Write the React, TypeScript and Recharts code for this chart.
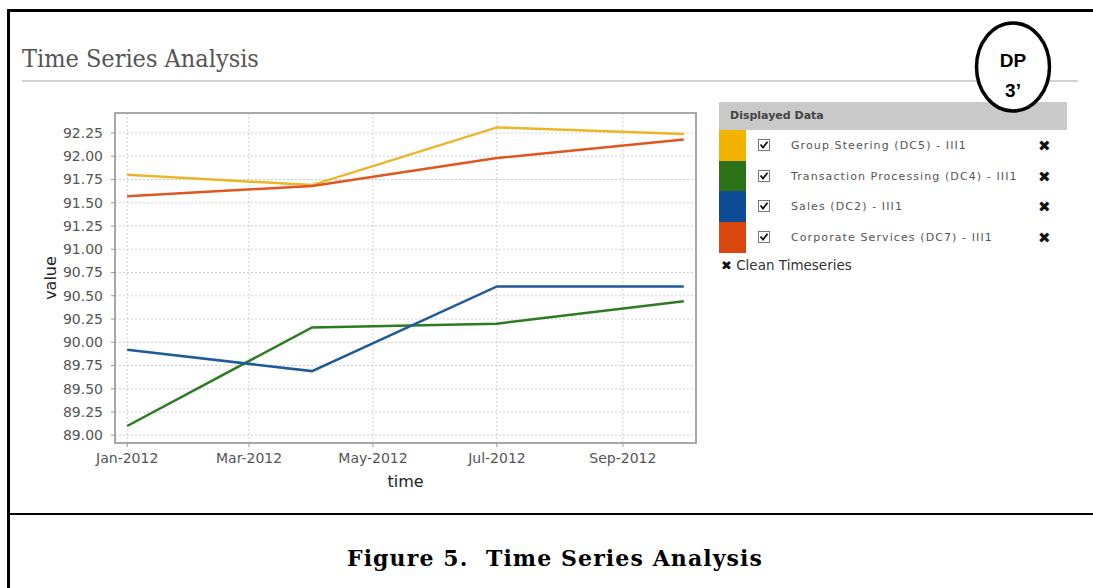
import React from 'react';
import {
  LineChart,
  Line,
  XAxis,
  YAxis,
  CartesianGrid,
  ReferenceArea,
} from 'recharts';

// quarterly samples (UTC dates)
const sampleDates = [
  Date.UTC(2012, 0, 1),
  Date.UTC(2012, 3, 1),
  Date.UTC(2012, 6, 1),
  Date.UTC(2012, 9, 1),
];

const groupSteering = [91.8, 91.69, 92.31, 92.24];
const transactionProcessing = [89.1, 90.16, 90.2, 90.44];
const sales = [89.92, 89.69, 90.6, 90.6];
const corporateServices = [91.57, 91.68, 91.98, 92.18];

const xTicks = [
  Date.UTC(2012, 0, 1),
  Date.UTC(2012, 2, 1),
  Date.UTC(2012, 4, 1),
  Date.UTC(2012, 6, 1),
  Date.UTC(2012, 8, 1),
];
const xTickLabels = ['Jan-2012', 'Mar-2012', 'May-2012', 'Jul-2012', 'Sep-2012'];

const yTicks = [
  89.0, 89.25, 89.5, 89.75, 90.0, 90.25, 90.5, 90.75, 91.0, 91.25, 91.5, 91.75, 92.0, 92.25,
];

const xDomain: [number, number] = [Date.UTC(2011, 11, 26), Date.UTC(2012, 9, 7)];
const yDomain: [number, number] = [88.917, 92.465];

const series = [
  { key: 'gs', name: 'Group Steering (DC5) - III1', line: '#ecb526', swatch: '#f2b300', values: groupSteering },
  { key: 'tp', name: 'Transaction Processing (DC4) - III1', line: '#2e7a22', swatch: '#2a7117', values: transactionProcessing },
  { key: 'sa', name: 'Sales (DC2) - III1', line: '#1f5a98', swatch: '#0d4c94', values: sales },
  { key: 'cs', name: 'Corporate Services (DC7) - III1', line: '#e0561f', swatch: '#d9470e', values: corporateServices },
];

const data = sampleDates.map((t, i) => {
  const row: Record<string, number> = { t };
  series.forEach((s) => {
    row[s.key] = s.values[i];
  });
  return row;
});

const sans = "'DejaVu Sans', Verdana, sans-serif";

const YTitle = (props: any) => {
  const { viewBox } = props;
  const cx = viewBox.x + 50;
  const cy = viewBox.y + viewBox.height / 2;
  return (
    <text
      x={cx}
      y={cy}
      transform={`rotate(-90 ${cx} ${cy})`}
      textAnchor="middle"
      dominantBaseline="central"
      fontSize={16}
      fontFamily={sans}
      fill="#222"
    >
      value
    </text>
  );
};

const XTitle = (props: any) => {
  const { viewBox } = props;
  return (
    <text
      x={viewBox.x + viewBox.width / 2}
      y={viewBox.y + 38}
      textAnchor="middle"
      dominantBaseline="central"
      fontSize={16}
      fontFamily={sans}
      fill="#222"
    >
      time
    </text>
  );
};

const CheckBox = () => (
  <svg width={12} height={12} style={{ display: 'block' }}>
    <rect x={0.5} y={0.5} width={11} height={11} fill="#fff" stroke="#777" />
    <path d="M2.5 5.5 L5 8.5 L9.5 2.8" fill="none" stroke="#111" strokeWidth={1.8} />
  </svg>
);

const DataPanel = () => (
  <div style={{ position: 'absolute', left: 719, top: 102, width: 348, fontFamily: sans }}>
    <div
      style={{
        height: 28,
        background: '#c9c9c9',
        color: '#444',
        fontWeight: 'bold',
        fontSize: 11,
        lineHeight: '28px',
        paddingLeft: 11,
      }}
    >
      Displayed Data
    </div>
    {series.map((s) => (
      <div key={s.key} style={{ position: 'relative', height: 30.7 }}>
        <div style={{ position: 'absolute', left: 0, top: 0, width: 27, height: '100%', background: s.swatch }} />
        <div style={{ position: 'absolute', left: 39, top: 9 }}>
          <CheckBox />
        </div>
        <div
          style={{
            position: 'absolute',
            left: 72,
            top: 1,
            lineHeight: '30px',
            fontSize: 11,
            letterSpacing: 1.1,
            color: '#555',
            whiteSpace: 'nowrap',
          }}
        >
          {s.name}
        </div>
        <div style={{ position: 'absolute', left: 319, top: 1, lineHeight: '30px', fontSize: 15, color: '#111' }}>
          ✖
        </div>
      </div>
    ))}
    <div style={{ marginTop: 3, fontSize: 13.5, color: '#333', whiteSpace: 'nowrap', lineHeight: '18px' }}>
      <span style={{ fontSize: 13, color: '#111', marginLeft: 2 }}>✖</span> Clean Timeseries
    </div>
  </div>
);

export default function App() {
  return (
    <div
      style={{
        position: 'absolute',
        left: 0,
        top: 0,
        width: 1093,
        height: 588,
        background: '#fff',
        overflow: 'hidden',
        fontFamily: sans,
      }}
    >
      {/* outer frame */}
      <div style={{ position: 'absolute', left: 7, top: 9, width: 2.5, height: 579, background: '#000' }} />
      <div style={{ position: 'absolute', left: 7, top: 9, width: 1086, height: 2.5, background: '#000' }} />
      <div style={{ position: 'absolute', left: 7, top: 512.5, width: 1086, height: 2.5, background: '#000' }} />

      {/* page title */}
      <div
        style={{
          position: 'absolute',
          left: 22,
          top: 44,
          fontFamily: "'DejaVu Serif Condensed', 'DejaVu Serif', serif",
          fontStretch: 'condensed',
          fontSize: 25,
          color: '#555',
          whiteSpace: 'nowrap',
        }}
      >
        Time Series Analysis
      </div>
      <div style={{ position: 'absolute', left: 22, top: 79.5, width: 1056, height: 2, background: '#d3d3d3' }} />

      <div style={{ position: 'absolute', left: 0, top: 0 }}>
        <LineChart width={1093} height={588} data={data} margin={{ top: 113, right: 397, bottom: 95, left: 0 }}>
          <CartesianGrid stroke="#cfcfcf" strokeDasharray="2 2" />
          <XAxis
            dataKey="t"
            type="number"
            scale="time"
            domain={xDomain}
            allowDataOverflow
            ticks={xTicks}
            tickFormatter={(v: number) => xTickLabels[xTicks.indexOf(v)] ?? ''}
            height={50}
            tickSize={4}
            tickMargin={6}
            axisLine={false}
            tickLine={{ stroke: '#999' }}
            tick={{ fontSize: 14, fill: '#555', fontFamily: sans }}
            label={<XTitle />}
          />
          <YAxis
            type="number"
            domain={yDomain}
            allowDataOverflow
            ticks={yTicks}
            tickFormatter={(v: number) => v.toFixed(2)}
            width={115}
            tickSize={4}
            tickMargin={8}
            axisLine={false}
            tickLine={{ stroke: '#999' }}
            tick={{ fontSize: 14, fill: '#555', fontFamily: sans }}
            label={<YTitle />}
          />
          <ReferenceArea
            x1={xDomain[0]}
            x2={xDomain[1]}
            y1={yDomain[0]}
            y2={yDomain[1]}
            fill="none"
            fillOpacity={0}
            stroke="#a8a8a8"
            strokeWidth={2}
          />
          {series.map((s) => (
            <Line
              key={s.key}
              type="linear"
              dataKey={s.key}
              name={s.name}
              stroke={s.line}
              strokeWidth={2.5}
              dot={false}
              activeDot={false}
              isAnimationActive={false}
            />
          ))}
        </LineChart>
      </div>

      <DataPanel />

      {/* DP marker */}
      <svg style={{ position: 'absolute', left: 960, top: 15 }} width={110} height={110}>
        <ellipse cx={53} cy={52} rx={36.5} ry={44} fill="#fff" stroke="#000" strokeWidth={3.5} />
        <text x={53} y={52} textAnchor="middle" fontFamily="'Liberation Sans', Arial, sans-serif" fontWeight="bold" fontSize={19} fill="#000">
          DP
        </text>
        <text x={53} y={82} textAnchor="middle" fontFamily="'Liberation Sans', Arial, sans-serif" fontWeight="bold" fontSize={19} fill="#000">
          3’
        </text>
      </svg>

      {/* figure caption */}
      <div
        style={{
          position: 'absolute',
          left: 0,
          width: 1110,
          top: 545,
          textAlign: 'center',
          fontFamily: "'DejaVu Serif', serif",
          fontWeight: 'bold',
          fontSize: 22,
          letterSpacing: 1.1,
          color: '#000',
          whiteSpace: 'pre',
        }}
      >
        {'Figure 5.  Time Series Analysis'}
      </div>
    </div>
  );
}
